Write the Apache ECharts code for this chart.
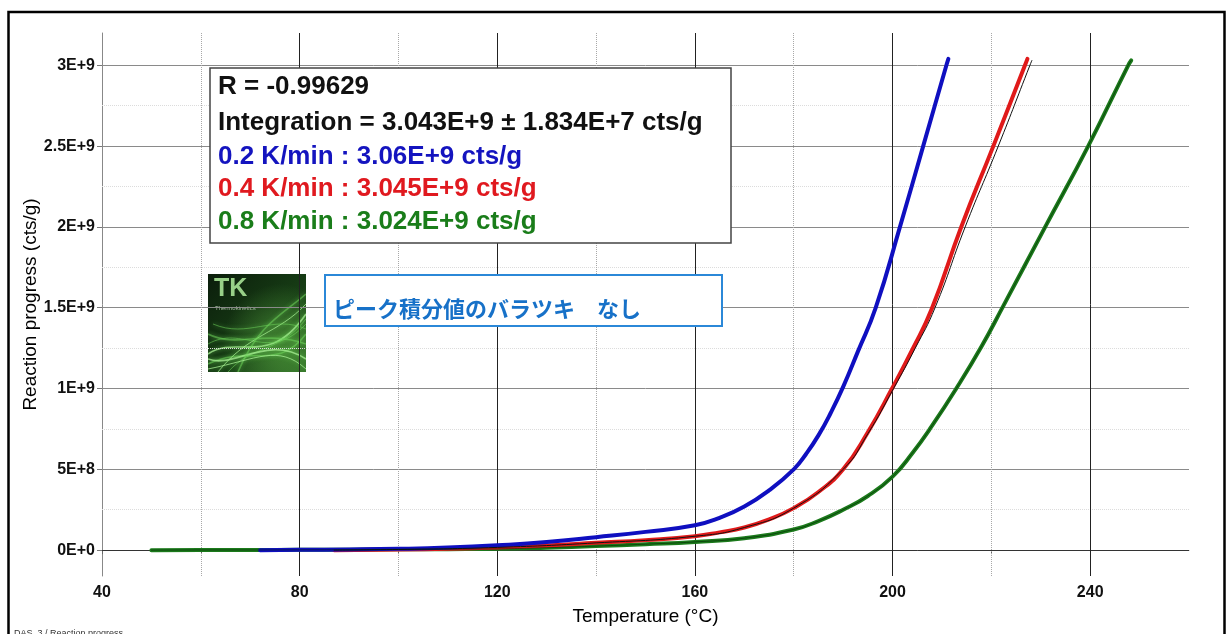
<!DOCTYPE html>
<html>
<head>
<meta charset="utf-8">
<style>
  html, body { margin: 0; padding: 0; background: #fff; }
  #chart { width: 1230px; height: 634px; }
</style>
<script src="https://cdn.jsdelivr.net/npm/echarts@6/dist/echarts.min.js"></script>
</head>
<body>
<div id="chart"></div>
<script>
// Axis ticks and labels
const xTicks = [40, 80, 120, 160, 200, 240];
const xTickLabels = ['40', '80', '120', '160', '200', '240'];
const xMinorGrid = [60, 100, 140, 180, 220];
const yTicks = [0, 0.5e9, 1e9, 1.5e9, 2e9, 2.5e9, 3e9];
const yTickLabels = ['0E+0', '5E+8', '1E+9', '1.5E+9', '2E+9', '2.5E+9', '3E+9'];
const yMinorGrid = [0.25e9, 0.75e9, 1.25e9, 1.75e9, 2.25e9, 2.75e9];

// Reaction progress (cts/g) vs temperature (°C), 0.2 K/min
const blueT = [72, 80, 90, 100, 110, 120, 130, 140, 150, 160, 165, 170, 175, 180, 182.5, 185, 187.5, 190, 193, 196.6, 201.5, 206.2, 210.9, 211.3];
const blueV = [0, 0.002e9, 0.004e9, 0.008e9, 0.016e9, 0.030e9, 0.050e9, 0.080e9, 0.113e9, 0.154e9, 0.20e9, 0.27e9, 0.37e9, 0.50e9, 0.595e9, 0.71e9, 0.85e9, 1.01e9, 1.23e9, 1.50e9, 2.00e9, 2.50e9, 3.00e9, 3.04e9];

// 0.4 K/min
const redT = [87, 100, 110, 120, 130, 140, 150, 160, 165, 170, 175, 180, 185, 190, 195, 199.9, 204, 207.9, 213.9, 220.4, 226.8, 227.3];
const redV = [0, 0.004e9, 0.009e9, 0.017e9, 0.028e9, 0.045e9, 0.062e9, 0.086e9, 0.11e9, 0.14e9, 0.19e9, 0.26e9, 0.36e9, 0.50e9, 0.73e9, 1.00e9, 1.24e9, 1.49e9, 2.00e9, 2.50e9, 3.00e9, 3.04e9];

// 0.8 K/min
const greenT = [50, 60, 70, 80, 90, 100, 110, 120, 130, 140, 150, 160, 170, 180, 185, 190, 195, 200, 204, 208, 212.9, 218, 222.4, 230.9, 239.6, 247.7, 248.3];
const greenV = [0, 0.001e9, 0.001e9, 0.002e9, 0.003e9, 0.005e9, 0.006e9, 0.008e9, 0.015e9, 0.025e9, 0.037e9, 0.051e9, 0.074e9, 0.128e9, 0.18e9, 0.25e9, 0.335e9, 0.455e9, 0.60e9, 0.77e9, 1.00e9, 1.26e9, 1.51e9, 2.00e9, 2.50e9, 3.00e9, 3.03e9];

// Thin black calculated curves
const redFitT = [87, 100, 120, 140, 160, 170, 180, 190, 195, 200.2, 204.6, 208.6, 214.7, 221.4, 227.8, 228.2];
const redFitV = [0, 0.004e9, 0.017e9, 0.045e9, 0.086e9, 0.14e9, 0.26e9, 0.50e9, 0.72e9, 1.00e9, 1.25e9, 1.50e9, 2.00e9, 2.50e9, 3.00e9, 3.03e9];
const greenFitT = greenT;
const greenFitV = greenV;

// Summary box text
const summaryLines = [
  { text: 'R = -0.99629', color: '#111111' },
  { text: 'Integration = 3.043E+9 ± 1.834E+7 cts/g', color: '#111111' },
  { text: '0.2 K/min : 3.06E+9 cts/g', color: '#1414bf' },
  { text: '0.4 K/min : 3.045E+9 cts/g', color: '#e0191f' },
  { text: '0.8 K/min : 3.024E+9 cts/g', color: '#1a7d1a' }
];
const summaryY = [87, 123, 157, 189, 222];
const noteText = 'ピーク積分値のバラツキ　なし';

const FONT = "'Liberation Sans', Arial, sans-serif";

function pairs(t, v) { return t.map((x, i) => [x, v[i]]); }

const gridMarks = [];
yMinorGrid.forEach(v => gridMarks.push({ yAxis: v, lineStyle: { color: '#dcdcdc', type: 'dotted', width: 1 } }));
yTicks.forEach(v => gridMarks.push({ yAxis: v, lineStyle: { color: v === 0 ? '#333' : '#8a8a8a', type: 'solid', width: 1 } }));
xMinorGrid.forEach(v => gridMarks.push({ xAxis: v, lineStyle: { color: '#a8a8a8', type: 'dotted', width: 1 } }));
xTicks.slice(1).forEach(v => gridMarks.push({ xAxis: v, lineStyle: { color: '#222', type: 'solid', width: 1 } }));

function curve(name, t, v, color, width, z) {
  return {
    name, type: 'line', data: pairs(t, v), showSymbol: false, symbol: 'none',
    smooth: 0.5, z,
    lineStyle: { color, width, cap: 'round', join: 'round' },
    animation: false, silent: true
  };
}

// Logo artwork: wisps across a dark green tile
const wisps = [];
const wispDefs = [
  [0, 80, 30, 60, 60, 95, 98, 40],
  [0, 70, 35, 50, 60, 90, 98, 50],
  [0, 90, 40, 70, 70, 98, 98, 60],
  [10, 98, 40, 60, 70, 60, 98, 30],
  [0, 60, 30, 75, 55, 55, 98, 70],
  [20, 98, 45, 70, 70, 80, 98, 45],
  [0, 85, 25, 95, 60, 60, 98, 85],
  [5, 50, 40, 65, 65, 40, 98, 55],
  [30, 98, 50, 50, 75, 40, 98, 20],
  [0, 95, 50, 85, 70, 70, 98, 95]
];
wispDefs.forEach((d, i) => {
  wisps.push({
    type: 'bezierCurve',
    shape: { x1: d[0], y1: d[1], cpx1: d[2], cpy1: d[3], cpx2: d[4], cpy2: d[5], x2: d[6], y2: d[7] },
    style: { stroke: i % 3 === 0 ? 'rgba(170,240,150,0.75)' : 'rgba(110,210,90,0.55)', lineWidth: i % 2 ? 1 : 1.6, fill: null, shadowBlur: 4, shadowColor: 'rgba(120,230,100,0.9)' }
  });
});

const chart = echarts.init(document.getElementById('chart'), null, { renderer: 'canvas' });
chart.setOption({
  backgroundColor: '#ffffff',
  animation: false,
  textStyle: { fontFamily: FONT },
  grid: { left: 102, right: 41, top: 33, bottom: 58, containLabel: false, outerBoundsMode: 'none' },
  xAxis: {
    type: 'value', min: 40, max: 260, interval: 20,
    name: 'Temperature (°C)', nameLocation: 'middle', nameGap: 31, nameMoveOverlap: false,
    nameTextStyle: { fontSize: 19, color: '#000', fontFamily: FONT },
    axisLine: { show: true, lineStyle: { color: '#9a9a9a', width: 1 } },
    axisTick: { show: true, length: 4, customValues: xTicks.concat(xMinorGrid), lineStyle: { color: '#666' } },
    axisLabel: {
      customValues: xTicks, margin: 9, fontSize: 16, fontWeight: 'bold', color: '#111', fontFamily: FONT,
      formatter: v => xTickLabels[xTicks.indexOf(v)] || ''
    },
    splitLine: { show: false }
  },
  yAxis: {
    type: 'value', min: -0.16e9, max: 3.2e9,
    name: 'Reaction progress (cts/g)', nameLocation: 'middle', nameGap: 62, nameMoveOverlap: false,
    nameTextStyle: { fontSize: 19, color: '#000', fontFamily: FONT },
    axisLine: { show: true, lineStyle: { color: '#888', width: 1 } },
    axisTick: { show: true, length: 5, customValues: yTicks, lineStyle: { color: '#777' } },
    axisLabel: {
      customValues: yTicks, margin: 7, fontSize: 16, fontWeight: 'bold', color: '#111', fontFamily: FONT,
      formatter: v => yTickLabels[yTicks.indexOf(v)] || ''
    },
    splitLine: { show: false }
  },
  series: [
    {
      name: 'grid', type: 'line', data: [[40, 0]], showSymbol: false, symbol: 'none',
      lineStyle: { opacity: 0 }, silent: true, z: 1,
      markLine: { silent: true, symbol: ['none', 'none'], label: { show: false }, animation: false, data: gridMarks }
    },
    curve('0.8 K/min', greenT, greenV, '#1b7a1b', 4, 10),
    curve('0.4 K/min', redT, redV, '#e01a1a', 4, 11),
    curve('0.2 K/min', blueT, blueV, '#0f0fc0', 4, 12),
    curve('0.4 K/min calc', redFitT, redFitV, '#111', 1, 13),
    curve('0.8 K/min calc', greenFitT, greenFitV, 'rgba(0,30,0,0.55)', 1, 13)
  ],
  graphic: [
    // outer frame
    { type: 'rect', z: 100, silent: true, shape: { x: 8.5, y: 12, width: 1216, height: 640 }, style: { fill: null, stroke: '#000', lineWidth: 2.5 } },
    // summary box
    { type: 'rect', z: 50, silent: true, shape: { x: 210, y: 68, width: 521, height: 175 }, style: { fill: '#fff', stroke: '#444', lineWidth: 1.5 } },
    ...summaryLines.map((l, i) => ({
      type: 'text', z: 51, silent: true,
      style: { x: 218, y: summaryY[i], text: l.text, fill: l.color, font: 'bold 26px ' + FONT, verticalAlign: 'middle', align: 'left' }
    })),
    // note box
    { type: 'rect', z: 50, silent: true, shape: { x: 325, y: 275, width: 397, height: 51 }, style: { fill: '#fff', stroke: '#2b88d8', lineWidth: 2 } },
    { type: 'text', z: 51, silent: true, style: { x: 333, y: 309, text: noteText, fill: '#1771c8', font: "bold 22px 'Noto Sans CJK JP', sans-serif", verticalAlign: 'middle', align: 'left' } },
    // logo tile
    {
      type: 'group', x: 208, y: 274, z: 50, silent: true,
      children: [
        { type: 'rect', shape: { x: 0, y: 0, width: 98, height: 98 }, style: { fill: new echarts.graphic.LinearGradient(0, 0, 1, 1, [{ offset: 0, color: '#0b1d0b' }, { offset: 0.55, color: '#173d15' }, { offset: 1, color: '#2d6a25' }]) } },
        { type: 'rect', shape: { x: 0, y: 0, width: 98, height: 98 }, style: { fill: new echarts.graphic.RadialGradient(0.75, 0.7, 0.6, [{ offset: 0, color: 'rgba(110,200,80,0.45)' }, { offset: 1, color: 'rgba(110,200,80,0)' }]) } },
        { type: 'group', clipPath: { type: 'rect', shape: { x: 0, y: 0, width: 98, height: 98 } }, children: wisps },
        { type: 'text', style: { x: 6, y: 3, text: 'TK', fill: '#98d088', font: 'bold 25px ' + FONT } },
        { type: 'text', style: { x: 7, y: 31, text: 'Thermokinetics', fill: '#a6bda0', font: '6px ' + FONT } }
      ]
    },
    // footer caption
    { type: 'text', z: 60, silent: true, style: { x: 14, y: 629, text: 'DAS_3 / Reaction progress', fill: '#333', font: '9px ' + FONT } }
  ]
});
</script>
</body>
</html>
